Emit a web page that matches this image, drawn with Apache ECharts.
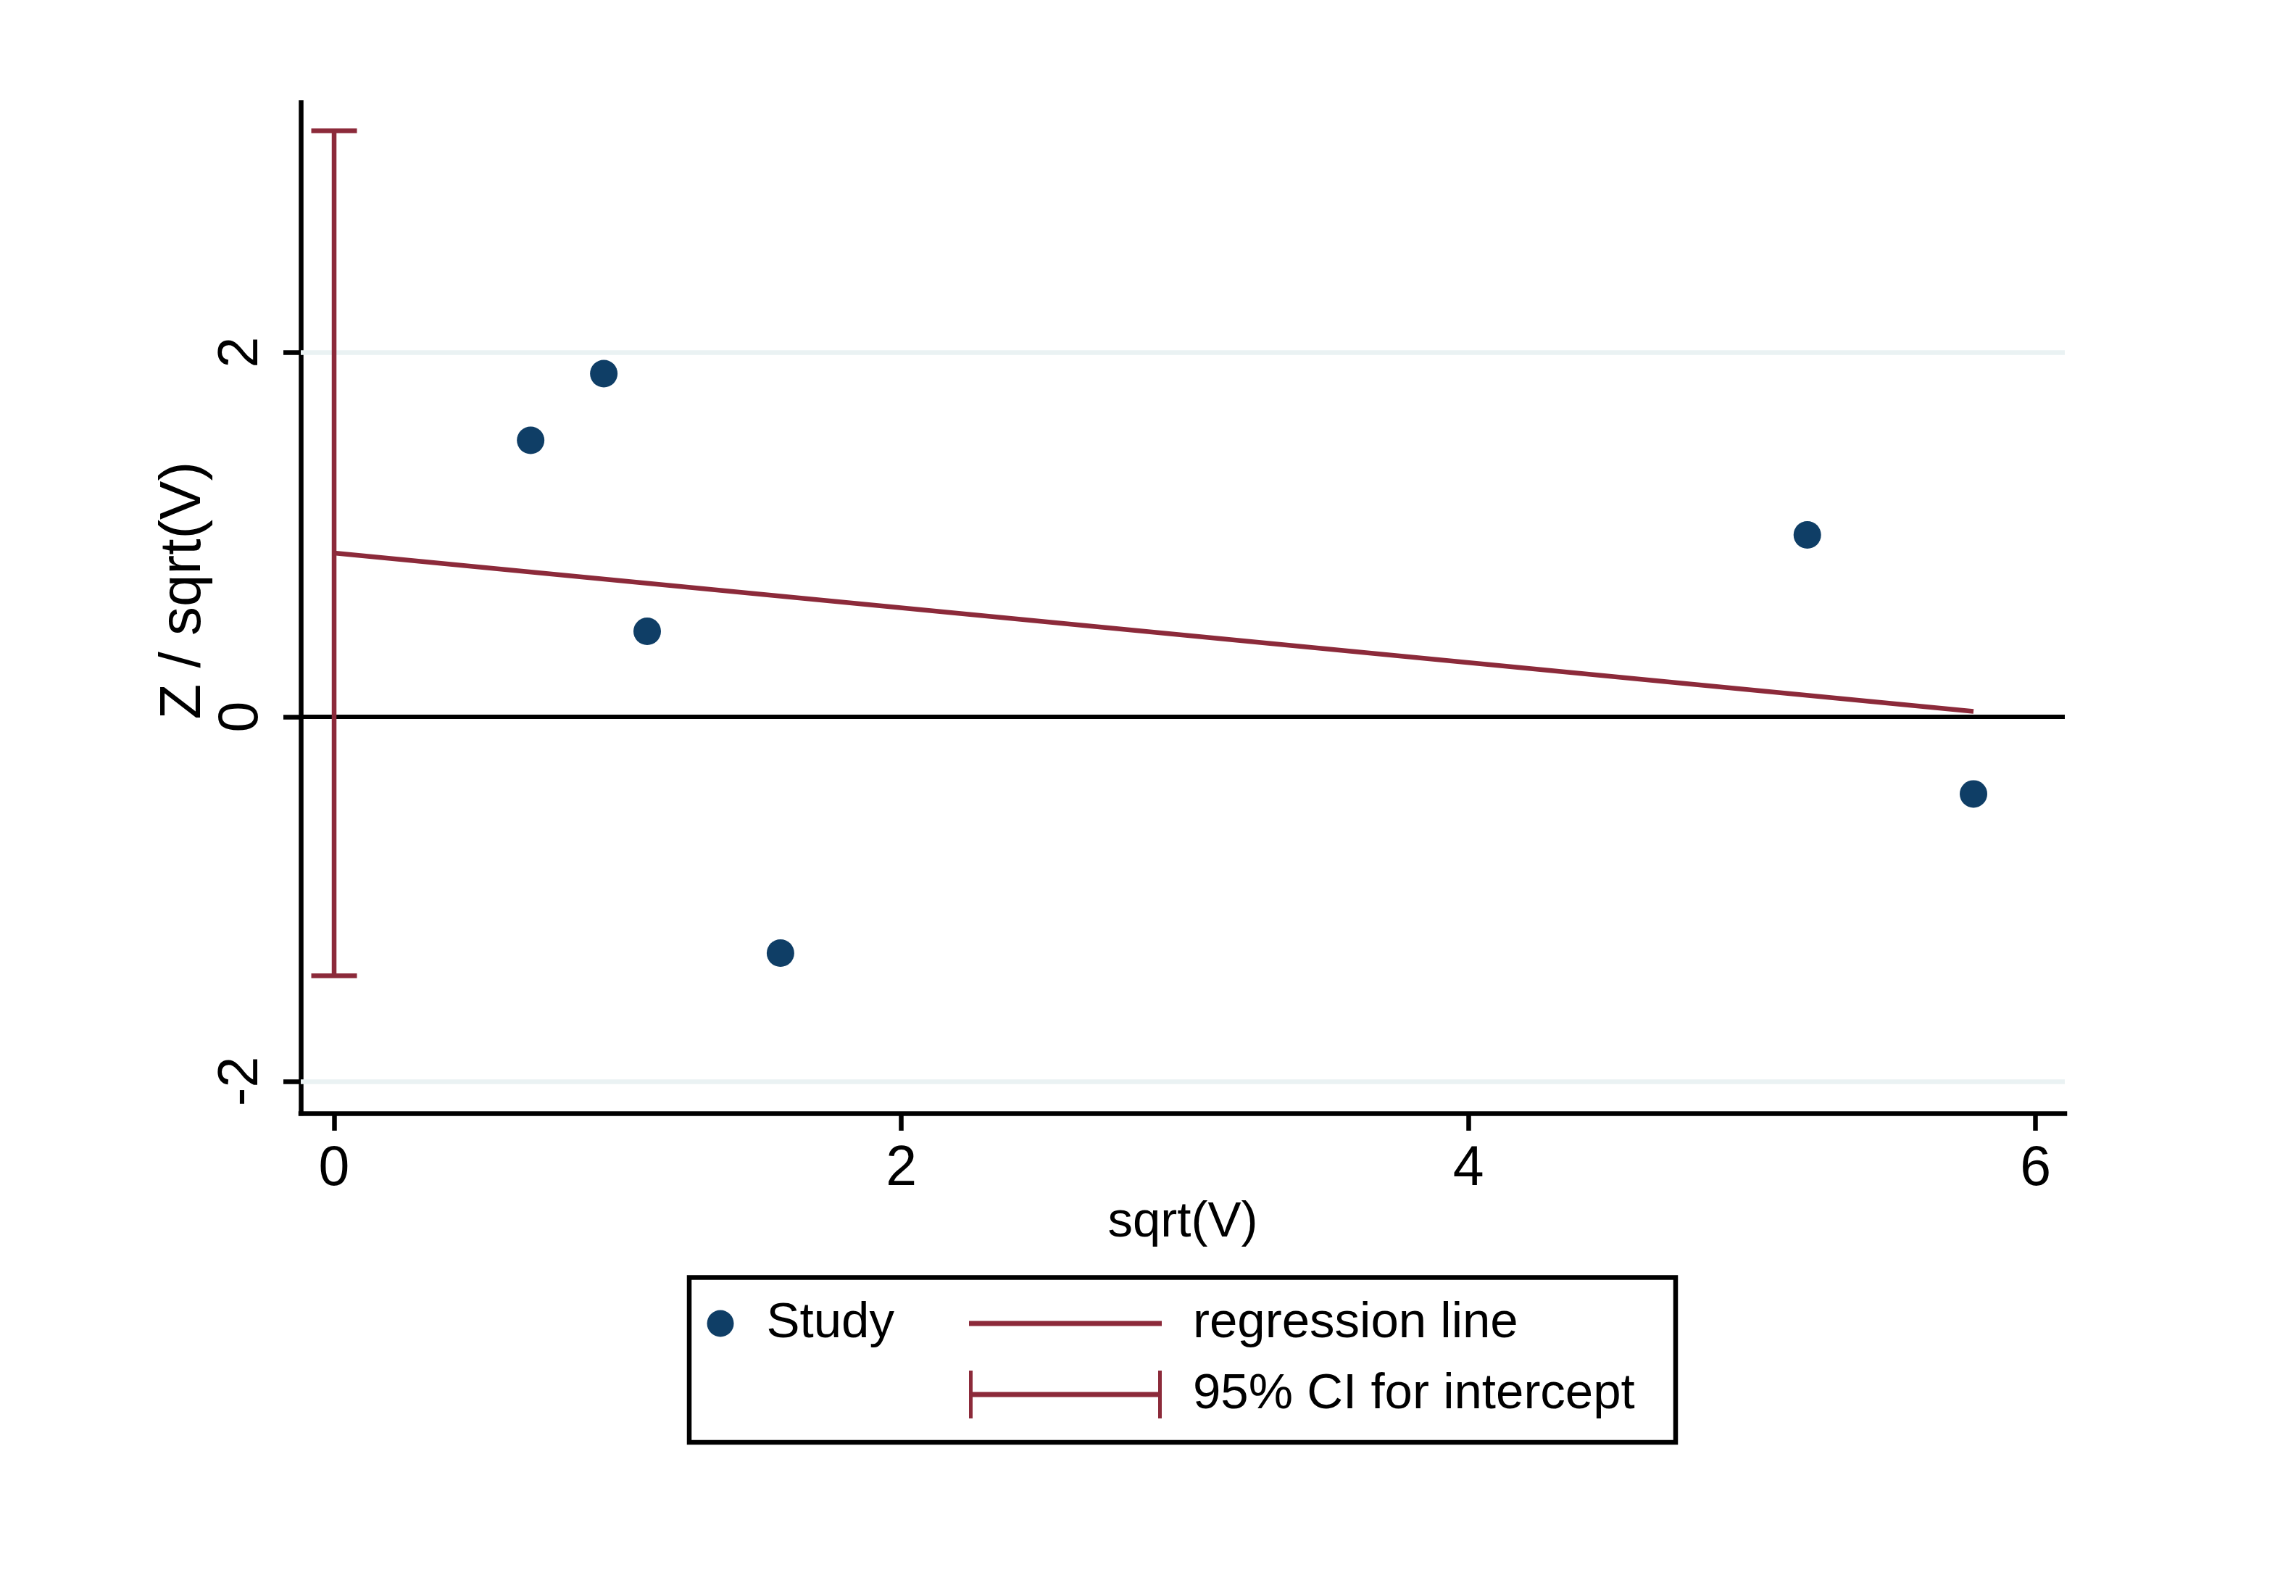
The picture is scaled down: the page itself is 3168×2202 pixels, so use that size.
<!DOCTYPE html>
<html>
<head>
<meta charset="utf-8">
<script src="https://cdn.jsdelivr.net/npm/echarts@6/dist/echarts.min.js"></script>
<style>
html,body{margin:0;padding:0;background:#ffffff;}
#chart{width:3168px;height:2202px;}
</style>
</head>
<body>
<div id="chart"></div>
<script>
// ---- data ----
const studyX = [0.693, 0.951, 1.104, 1.574, 5.195, 5.781];
const studyY = [1.517, 1.883, 0.469, -1.296, 0.998, -0.423];
const regX = [0, 5.781];
const regY = [0.899, 0.030];
const ciX = [0];
const ciLow = [-1.420];
const ciHigh = [3.215];
const xTicks = [0, 2, 4, 6];
const yTicks = [-2, 0, 2];
const gridYs = [-2, 2];
const zeroY = [0];
const legendNames = ['Study', 'regression line', '95% CI for intercept'];
const xTitle = 'sqrt(V)';
const yTitle = 'Z / sqrt(V)';

// ---- styling ----
const NAVY = '#0f3e66';
const MAROON = '#8c2a3a';
const GRID = '#eaf2f3';
const FONT = '"Liberation Sans", Arial, Helvetica, sans-serif';

const chart = echarts.init(document.getElementById('chart'), null, {renderer: 'canvas'});

const studyData = studyX.map((x, i) => [x, studyY[i]]);
const regData = regX.map((x, i) => [x, regY[i]]);
const ciData = ciX.map((x, i) => [x, ciLow[i], ciHigh[i]]);

const refLines = gridYs.map(v => ({yAxis: v, lineStyle: {color: GRID, width: 6.5, type: 'solid'}}))
  .concat(zeroY.map(v => ({yAxis: v, lineStyle: {color: '#000000', width: 6, type: 'solid'}})));

const option = {
  animation: false,
  backgroundColor: '#ffffff',
  grid: {left: 415, right: 319, top: 141.5, bottom: 666, containLabel: false, outerBoundsMode: 'none'},
  xAxis: {
    type: 'value',
    min: -0.1176,
    max: 6.103,
    name: xTitle,
    nameLocation: 'middle',
    nameGap: 116,
    nameMoveOverlap: false,
    nameTextStyle: {fontSize: 69, lineHeight: 69, color: '#000', fontFamily: FONT},
    axisLine: {show: true, onZero: false, lineStyle: {color: '#000', width: 6.5, cap: 'square'}},
    axisTick: {show: true, inside: false, length: 24, lineStyle: {color: '#000', width: 6.5}, customValues: xTicks},
    axisLabel: {show: true, customValues: xTicks, fontSize: 77, lineHeight: 77, margin: 39, color: '#000', fontFamily: FONT},
    splitLine: {show: false},
    minorTick: {show: false}
  },
  yAxis: {
    type: 'value',
    min: -2.175,
    max: 3.370,
    name: yTitle,
    nameLocation: 'middle',
    nameGap: 121,
    nameMoveOverlap: false,
    nameTextStyle: {fontSize: 80, lineHeight: 80, color: '#000', fontFamily: FONT, padding: [0, 0, 0, 48]},
    axisLine: {show: true, onZero: false, lineStyle: {color: '#000', width: 6.5, cap: 'square'}},
    axisTick: {show: true, inside: false, length: 24, lineStyle: {color: '#000', width: 6.5}, customValues: yTicks},
    axisLabel: {show: true, customValues: yTicks, rotate: 90, fontSize: 77, lineHeight: 77, margin: 43, color: '#000', fontFamily: FONT},
    splitLine: {show: false}
  },
  legend: [
    {
      data: [{name: legendNames[0], icon: 'circle', itemStyle: {color: NAVY, borderWidth: 0}}],
      orient: 'horizontal',
      left: 975.5,
      top: 1789,
      padding: 0,
      itemWidth: 37,
      itemHeight: 37,
      selectedMode: false,
      itemStyle: {borderWidth: 0},
      textStyle: {fontSize: 69, lineHeight: 70, color: '#000', fontFamily: FONT, padding: [4, 0, 0, 40]}
    },
    {
      data: [
        {name: legendNames[1], icon: 'path://M0,0H266V7H0Z', itemStyle: {color: MAROON, borderWidth: 0}},
        {name: legendNames[2], icon: 'path://M0,0H5V29.5H261V0H266V66H261V36.5H5V66H0Z', itemStyle: {color: MAROON, borderWidth: 0}}
      ],
      orient: 'vertical',
      left: 1337,
      top: 1789,
      padding: 0,
      itemGap: 24,
      itemWidth: 266,
      itemHeight: 66,
      selectedMode: false,
      itemStyle: {borderWidth: 0},
      textStyle: {fontSize: 69, lineHeight: 70, color: '#000', fontFamily: FONT, padding: [4, 0, 0, 38]}
    }
  ],
  graphic: [
    {
      type: 'rect',
      silent: true,
      shape: {x: 951, y: 1762.5, width: 1361, height: 227.5},
      style: {fill: null, stroke: '#000', lineWidth: 6.5},
      z: 0
    }
  ],
  series: [
    {
      name: '_ref',
      type: 'line',
      data: [],
      z: 1,
      silent: true,
      markLine: {
        silent: true,
        symbol: ['none', 'none'],
        label: {show: false},
        z: 1,
        data: refLines
      }
    },
    {
      name: legendNames[1],
      type: 'line',
      data: regData,
      symbol: 'none',
      showSymbol: false,
      color: MAROON,
      lineStyle: {color: MAROON, width: 6.5},
      z: 3,
      silent: true
    },
    {
      name: legendNames[2],
      type: 'custom',
      data: ciData,
      encode: {x: 0, y: [1, 2]},
      color: MAROON,
      itemStyle: {color: MAROON},
      z: 3,
      silent: true,
      renderItem: function (params, api) {
        const x = api.value(0);
        const pLo = api.coord([x, api.value(1)]);
        const pHi = api.coord([x, api.value(2)]);
        const hw = 31.5;
        const st = {stroke: MAROON, lineWidth: 6.5, fill: null};
        return {
          type: 'group',
          children: [
            {type: 'line', shape: {x1: pLo[0], y1: pLo[1], x2: pHi[0], y2: pHi[1]}, style: st},
            {type: 'line', shape: {x1: pHi[0] - hw, y1: pHi[1], x2: pHi[0] + hw, y2: pHi[1]}, style: st},
            {type: 'line', shape: {x1: pLo[0] - hw, y1: pLo[1], x2: pLo[0] + hw, y2: pLo[1]}, style: st}
          ]
        };
      }
    },
    {
      name: legendNames[0],
      type: 'scatter',
      data: studyData,
      symbol: 'circle',
      symbolSize: 38,
      itemStyle: {color: NAVY, borderWidth: 0, opacity: 1},
      z: 5,
      silent: true
    }
  ]
};

chart.setOption(option);
</script>
</body>
</html>
